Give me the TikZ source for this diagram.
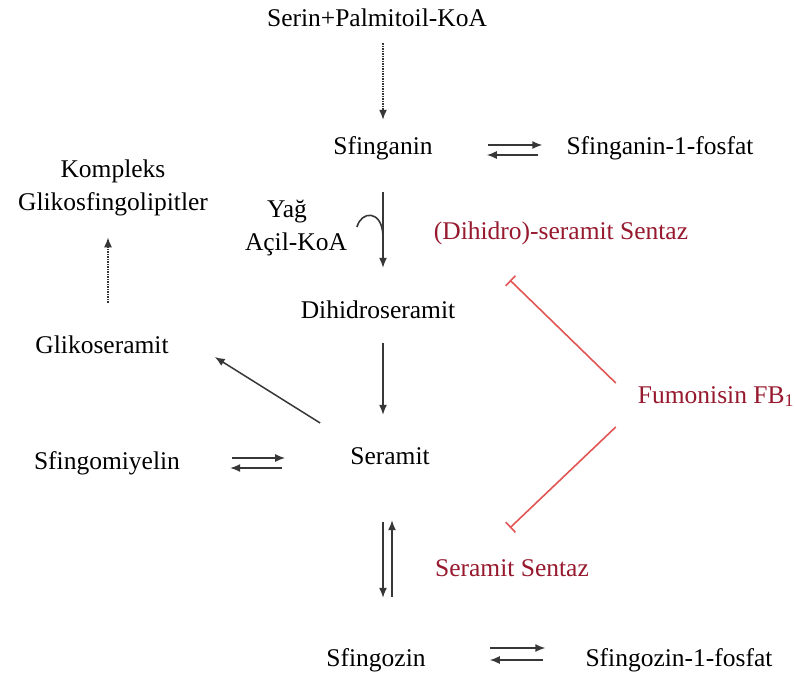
\documentclass[tikz,border=0pt]{standalone}
\usepackage{fontspec}
\setmainfont{Liberation Serif}
\usetikzlibrary{arrows.meta}

\definecolor{enzred}{RGB}{150,25,45}
\definecolor{inhred}{RGB}{225,85,85}
\definecolor{arrgray}{RGB}{55,55,55}

\begin{document}
\begin{tikzpicture}[x=1pt, y=-1pt]

\tikzset{
  lbl/.style={font=\fontsize{25.5}{31}\selectfont, inner sep=0pt, text height=18pt, text depth=6pt},
  lblml/.style={font=\fontsize{25.5}{33}\selectfont, inner sep=0pt, align=center},
  enz/.style={lbl, text=enzred},
  rxn/.style={draw=arrgray, line width=1.5pt, -{Latex[length=10pt,width=8pt]}},
  rxndot/.style={rxn, dash pattern=on 1.5pt off 1pt},
  acylhook/.style={draw=arrgray, line width=1.6pt},
  inh/.style={draw=inhred, line width=1.6pt, -{Bar[width=14pt]}},
}

\useasboundingbox (0,0) rectangle (795,680);
\coordinate (spine) at (383,0);
\coordinate (spinetwo) at (392,0);

\node[lbl,name=serin] at (377,20) {Serin+Palmitoil-KoA};
\node[lbl,name=sfn] at (383,148) {Sfinganin};
\node[lbl,name=sfnp] at (660,148) {Sfinganin-1-fosfat};
\node[lblml,name=kgsl] at (113,188) {Kompleks\\Glikosfingolipitler};
\node[lblml,name=acyl] at (296,228) {Yağ\hspace*{18pt}\\Açil-KoA};
\node[enz,name=dss] at (561,233) {(Dihidro)-seramit Sentaz};
\node[lbl,name=dih] at (378,312) {Dihidroseramit};
\node[lbl,name=glik] at (102,347) {Glikoseramit};
\node[enz,name=fum] at (716,397) {Fumonisin FB\textsubscript{1}};
\node[lbl,name=sera] at (390,458) {Seramit};
\node[lbl,name=sfm] at (107,463) {Sfingomiyelin};
\node[enz,name=ss] at (512,570) {Seramit Sentaz};
\node[lbl,name=sfz] at (376,660) {Sfingozin};
\node[lbl,name=sfzp] at (679,660) {Sfingozin-1-fosfat};

\coordinate (hkA) at (357,227);
\coordinate (hkB) at (383,236);

\draw[rxndot, shorten <=11pt, shorten >=16pt] (serin.south -| spine) -- (sfn.north -| spine);
\draw[rxn, shorten <=32pt, shorten >=32pt] (sfn.south -| spine) -- (dih.north -| spine);
\draw[acylhook] (hkA) .. controls (361,211) and (382,209) .. (hkB);
\draw[rxn, shorten <=19pt, shorten >=31pt] (dih.south -| spine) -- (sera.north -| spine);
\draw[rxn] ([shift={(-30,-35)}]sera.west) -- ([shift={(46,10)}]glik.east);
\draw[rxndot, shorten <=32pt, shorten >=21pt] ([xshift=6pt]glik.north) -- ([xshift=6pt]glik.north |- kgsl.south);

\draw[rxn, shorten <=55pt, shorten >=24pt] ([yshift=3pt]sfn.east) -- ([yshift=3pt]sfn.east -| sfnp.west);
\draw[rxn, shorten <=28pt, shorten >=54pt] ([yshift=-7pt]sfn.east -| sfnp.west) -- ([yshift=-7pt]sfn.east);

\draw[rxn, shorten <=52pt, shorten >=65pt] ([yshift=5pt]sfm.east) -- ([yshift=5pt]sfm.east -| sera.west);
\draw[rxn, shorten <=68pt, shorten >=50pt] ([yshift=-5pt]sfm.east -| sera.west) -- ([yshift=-5pt]sfm.east);

\draw[rxn, shorten <=52pt, shorten >=50pt] (sera.south -| spine) -- (sfz.north -| spine);
\draw[rxn, shorten <=51pt, shorten >=50pt] (sfz.north -| spinetwo) -- (sera.south -| spinetwo);

\draw[rxn, shorten <=64pt, shorten >=40pt] ([yshift=12pt]sfz.east) -- ([yshift=12pt]sfz.east -| sfzp.west);
\draw[rxn, shorten <=42pt, shorten >=64pt] (sfz.east -| sfzp.west) -- (sfz.east);

\draw[inh] ([shift={(-22,-14)}]fum.west) -- ([shift={(-51,35)}]dss.south);
\draw[inh] ([shift={(-22,30)}]fum.west) -- ([shift={(-2,-30)}]ss.north);

\end{tikzpicture}
\end{document}
